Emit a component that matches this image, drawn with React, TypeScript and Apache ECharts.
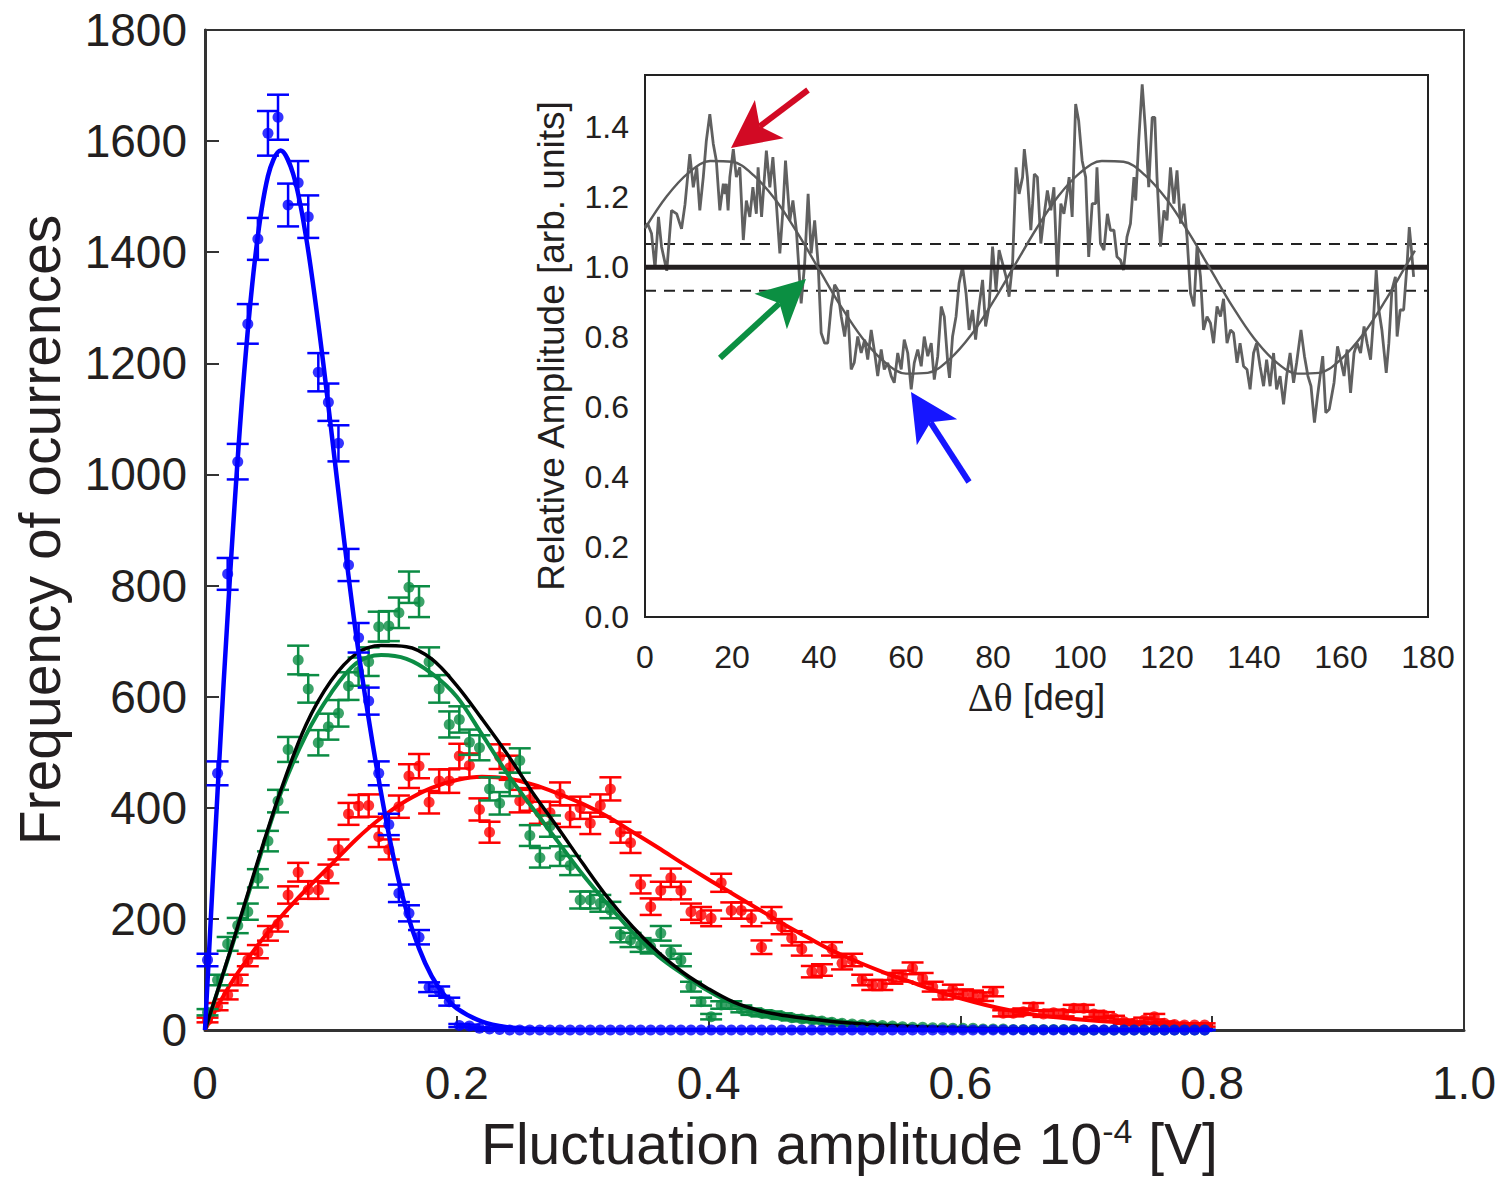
import React, { useEffect, useRef } from "react";
import * as echarts from "echarts";

// ---------- main histogram data (bins of width 0.008 starting at 0.002) ----------
const binStart = 0.002;
const binWidth = 0.008;

const blueCounts = [
  126, 462, 821, 1023, 1271, 1424, 1614, 1643, 1485, 1525,
  1464, 1184, 1130, 1056, 837, 706, 592, 462, 370, 246,
  210, 167, 77, 70, 51, 8, 7, 3, 2, 1,
  0, 0, 0, 0, 0, 0, 0, 0, 0, 0,
  0, 0, 0, 0, 0, 0, 0, 0, 0, 0,
  0, 0, 0, 0, 0, 0, 0, 0, 0, 0,
  0, 0, 0, 0, 0, 0, 0, 0, 0, 0,
  0, 0, 0, 0, 0, 0, 0, 0, 0, 0,
  0, 0, 0, 0, 0, 0, 0, 0, 0, 0,
  0, 0, 0, 0, 0, 0, 0, 0, 0, 0,
];

const greenCounts = [
  32, 90, 155, 188, 213, 273, 340, 412, 505, 666,
  614, 517, 546, 570, 619, 645, 663, 726, 727, 751,
  797, 771, 663, 614, 550, 559, 518, 508, 434, 408,
  442, 485, 350, 310, 367, 313, 296, 234, 234, 228,
  216, 171, 162, 153, 150, 174, 140, 126, 78, 51,
  24, 45, 45, 38, 33, 30, 28, 25, 22, 20,
  18, 16, 14, 12, 11, 10, 9, 8, 7, 6,
  5, 5, 4, 4, 3, 3, 3, 2, 2, 2,
  1, 1, 1, 1, 1, 1, 1, 0, 0, 0,
  0, 0, 0, 0, 0, 0, 0, 0, 0, 0,
];

const redCounts = [
  18, 42, 63, 90, 126, 141, 174, 191, 243, 284,
  252, 252, 281, 325, 389, 403, 404, 348, 325, 402,
  457, 475, 410, 448, 448, 493, 476, 397, 356, 492,
  472, 412, 415, 391, 391, 425, 385, 400, 372, 404,
  434, 356, 337, 262, 222, 251, 274, 251, 213, 207,
  201, 265, 215, 215, 201, 149, 207, 186, 165, 146,
  105, 108, 146, 120, 126, 90, 81, 81, 93, 97,
  111, 93, 78, 63, 73, 65, 63, 60, 69, 30,
  30, 33, 42, 29, 31, 30, 39, 39, 29, 27,
  21, 15, 12, 18, 24, 12, 10, 9, 9, 9,
];

// fitted curves: [amplitude, frequency]
const blueFit = [
  [0, 0], [0.01, 430], [0.02, 822], [0.03, 1152], [0.04, 1393], [0.05, 1537],
  [0.06, 1583], [0.07, 1541], [0.08, 1431], [0.09, 1271], [0.1, 1085],
  [0.11, 891], [0.12, 712], [0.13, 560], [0.14, 425], [0.15, 308], [0.16, 215],
  [0.17, 147], [0.18, 97], [0.19, 63], [0.2, 39], [0.22, 15], [0.24, 5],
  [0.26, 2], [0.3, 0], [0.4, 0], [0.5, 0], [0.6, 0], [0.7, 0], [0.8, 0],
];

const greenFit = [
  [0, 0], [0.02, 140], [0.04, 285], [0.06, 425], [0.08, 530], [0.1, 606],
  [0.12, 660], [0.14, 675], [0.16, 668], [0.18, 642], [0.2, 600], [0.22, 532],
  [0.24, 462], [0.26, 400], [0.28, 340], [0.3, 280], [0.32, 226], [0.34, 175],
  [0.36, 133], [0.38, 100], [0.4, 70], [0.42, 47], [0.44, 32], [0.46, 23],
  [0.48, 17], [0.5, 13], [0.55, 6], [0.6, 3], [0.65, 1], [0.7, 0], [0.8, 0],
];

const blackFit = [
  [0, 0], [0.02, 142], [0.04, 290], [0.06, 430], [0.08, 548], [0.1, 628],
  [0.12, 677], [0.14, 692], [0.16, 690], [0.18, 668], [0.2, 620], [0.22, 560],
  [0.24, 497], [0.26, 428], [0.28, 365], [0.3, 300], [0.32, 238], [0.34, 185],
  [0.36, 140], [0.38, 103], [0.4, 74], [0.42, 50], [0.44, 35], [0.46, 26],
  [0.48, 20], [0.5, 15], [0.55, 7], [0.6, 3], [0.65, 1], [0.7, 0], [0.8, 0],
];

const redFit = [
  [0, 0], [0.02, 82], [0.04, 147], [0.06, 203], [0.08, 252], [0.1, 297],
  [0.12, 343], [0.14, 382], [0.16, 413], [0.18, 436], [0.2, 450], [0.22, 456],
  [0.24, 453], [0.26, 442], [0.28, 426], [0.3, 407], [0.32, 384], [0.34, 356],
  [0.36, 328], [0.38, 299], [0.4, 271], [0.42, 244], [0.44, 217], [0.46, 190],
  [0.48, 165], [0.5, 141], [0.52, 121], [0.54, 103], [0.56, 87], [0.58, 71],
  [0.6, 57], [0.62, 45], [0.64, 35], [0.66, 27], [0.68, 22], [0.7, 18],
  [0.72, 15], [0.74, 13], [0.76, 11], [0.78, 10], [0.8, 9],
];

// ---------- inset data: [delta theta (deg), relative amplitude] ----------
const insetTrace = [
  [0, 1.115], [0.6, 1.125], [1.5, 1.097], [2.3, 0.997], [3.1, 1.144], [3.8, 1.059],
  [5, 0.99], [6.1, 1.163], [7.3, 1.153], [8, 1.125], [8.4, 1.11], [9.2, 1.18],
  [10.3, 1.324], [11.1, 1.229], [11.9, 1.286], [12.6, 1.163], [13.4, 1.258],
  [14.1, 1.362], [14.9, 1.438], [15.7, 1.353], [16.4, 1.305], [17.2, 1.163],
  [18, 1.239], [18.4, 1.21], [18.7, 1.239], [19.1, 1.163], [19.5, 1.258],
  [20.3, 1.338], [21, 1.258], [21.8, 1.286], [22.6, 1.078], [23.3, 1.191],
  [24.1, 1.144], [24.8, 1.229], [25.6, 1.153], [26, 1.286], [26.8, 1.144],
  [27.9, 1.334], [28.7, 1.229], [29.4, 1.315], [30.2, 1.182], [31, 1.04],
  [31.7, 1.163], [32.3, 1.305], [33.3, 1.134], [34, 1.191], [34.8, 1.106],
  [35.6, 0.954], [35.9, 0.897], [36.7, 1.01], [37.5, 1.21], [38.2, 1.04],
  [39, 1.134], [39.8, 1.01], [40.5, 0.812], [41.3, 0.783], [42, 0.783],
  [42.8, 0.888], [43.6, 0.95], [44.3, 0.935], [45.1, 0.86], [45.9, 0.802],
  [46.6, 0.878], [47.4, 0.708], [48.1, 0.727], [48.9, 0.802], [49.7, 0.755],
  [50.5, 0.793], [51.2, 0.736], [52, 0.821], [52.8, 0.755], [53.5, 0.689],
  [54.3, 0.765], [55, 0.708], [55.8, 0.727], [56.6, 0.689], [57.3, 0.67],
  [58.1, 0.755], [58.9, 0.708], [59.6, 0.793], [60.4, 0.755], [61.2, 0.651],
  [61.9, 0.727], [62.7, 0.765], [63.5, 0.717], [64.2, 0.802], [65, 0.746],
  [65.8, 0.783], [66.5, 0.679], [67.3, 0.746], [68.1, 0.888], [68.8, 0.859],
  [69.6, 0.727], [70, 0.684], [70.7, 0.802], [71.5, 0.859], [72.2, 0.954],
  [73, 1.002], [73.8, 0.926], [74.5, 0.821], [75.3, 0.878], [76, 0.793],
  [76.8, 0.888], [77.6, 0.964], [78.3, 0.831], [79.1, 0.888], [79.9, 1.059],
  [80.7, 0.935], [81.4, 1.049], [82.2, 1.011], [83, 0.973], [83.7, 0.916],
  [84.5, 1.011], [85.3, 1.286], [86, 1.21], [86.8, 1.258], [87.2, 1.338],
  [87.9, 1.258], [88.7, 1.106], [89.1, 1.182], [89.5, 1.267], [90.2, 1.258],
  [91, 1.068], [91.7, 1.144], [92.5, 1.22], [93.3, 1.163], [94, 1.229],
  [94.8, 0.973], [95.6, 1.182], [96.3, 1.153], [97.1, 1.22], [97.5, 1.258],
  [98.2, 1.144], [99, 1.467], [99.7, 1.419], [100.5, 1.305], [101.3, 1.258],
  [102, 1.03], [102.8, 1.182], [103.6, 1.182], [103.9, 1.286], [104.7, 1.068],
  [105.5, 1.049], [106.3, 1.153], [107, 1.106], [107.8, 1.106], [108.5, 1.03],
  [109.3, 1.021], [110, 0.992], [110.8, 1.087], [111.6, 1.125], [112.4, 1.258],
  [112.8, 1.191], [113.5, 1.362], [114.3, 1.523], [115, 1.4], [115.8, 1.229],
  [116.6, 1.429], [117.2, 1.429], [117.7, 1.258], [118.5, 1.059], [119.3, 1.163],
  [120, 1.134], [120.8, 1.286], [121.6, 1.182], [122.3, 1.277], [123.1, 1.125],
  [123.9, 1.182], [124.6, 1.087], [125.4, 0.926], [126.2, 0.888], [126.9, 1.059],
  [127.7, 0.973], [128.4, 0.821], [129.2, 0.859], [130, 0.84], [130.7, 0.783],
  [131.5, 0.888], [132.3, 0.859], [133, 0.91], [133.8, 0.783], [134.6, 0.821],
  [135.3, 0.812], [136.1, 0.727], [136.8, 0.783], [137.6, 0.717], [138.4, 0.708],
  [139.1, 0.651], [139.9, 0.755], [140.6, 0.783], [141.4, 0.717], [142.2, 0.66],
  [142.9, 0.736], [143.7, 0.66], [144.5, 0.755], [145.2, 0.651], [146, 0.689],
  [146.8, 0.608], [147.5, 0.689], [148.3, 0.755], [149.1, 0.67], [149.8, 0.727],
  [150.8, 0.821], [151.6, 0.746], [152.4, 0.689], [153.1, 0.66], [153.9, 0.556],
  [154.6, 0.632], [155.8, 0.746], [156.5, 0.584], [157.3, 0.594], [158.4, 0.67],
  [159.2, 0.774], [159.9, 0.736], [160.7, 0.689], [161.4, 0.765], [162.2, 0.641],
  [163, 0.755], [163.7, 0.783], [164.5, 0.755], [165.3, 0.831], [166, 0.783],
  [166.8, 0.736], [167.5, 0.859], [168.1, 0.992], [168.7, 0.878], [169.4, 0.821],
  [170.4, 0.698], [171, 0.783], [171.7, 0.935], [172.5, 0.973], [172.9, 0.802],
  [173.6, 0.878], [174.4, 0.878], [175.2, 1.011], [175.7, 1.115], [176.2, 1.049],
  [176.7, 0.973],
];

const insetFit = [
  [0, 1.111], [5, 1.203], [10, 1.27], [15, 1.304], [20, 1.302], [25, 1.263],
  [30, 1.193], [35, 1.099], [40, 0.994], [45, 0.889], [50, 0.797], [55, 0.73],
  [60, 0.696], [65, 0.698], [70, 0.737], [75, 0.807], [80, 0.901], [85, 1.006],
  [90, 1.111], [95, 1.203], [100, 1.27], [105, 1.304], [110, 1.302], [115, 1.263],
  [120, 1.193], [125, 1.099], [130, 0.994], [135, 0.889], [140, 0.797],
  [145, 0.73], [150, 0.696], [155, 0.698], [160, 0.737], [165, 0.807],
  [170, 0.901], [175, 1.006], [177, 1.048],
];

const meanLevel = 1.0;
const upperLevel = 1.067;
const lowerLevel = 0.933;

// ---------- styling ----------
const SANS = "'Liberation Sans', Arial, Helvetica, sans-serif";
const SERIF = "'Liberation Serif', 'Times New Roman', serif";
const INK = "#231f20";
const BLUE = "#0000ff";
const GREEN = "#0b8c44";
const RED = "#ff0000";

const binCenters = blueCounts.map((_, i) => +(binStart + i * binWidth).toFixed(4));

function errorBars(counts: number[], color: string, z: number) {
  return {
    type: "custom",
    xAxisIndex: 0,
    yAxisIndex: 0,
    z,
    silent: true,
    data: counts.map((c, i) => [binCenters[i], c, Math.sqrt(c)]),
    encode: { x: 0, y: [1] },
    renderItem: (_params: any, api: any) => {
      const x = api.value(0);
      const y = api.value(1);
      const e = api.value(2);
      const top = api.coord([x, y + e]);
      const bot = api.coord([x, y - e]);
      const hw = 11;
      const style = { stroke: color, lineWidth: 2.5, fill: null };
      return {
        type: "group",
        children: [
          { type: "line", shape: { x1: top[0], y1: top[1], x2: bot[0], y2: bot[1] }, style },
          { type: "line", shape: { x1: top[0] - hw, y1: top[1], x2: top[0] + hw, y2: top[1] }, style },
          { type: "line", shape: { x1: bot[0] - hw, y1: bot[1], x2: bot[0] + hw, y2: bot[1] }, style },
        ],
      };
    },
  };
}

function points(counts: number[], color: string, z: number) {
  return {
    type: "scatter",
    xAxisIndex: 0,
    yAxisIndex: 0,
    z,
    symbol: "circle",
    symbolSize: 11,
    itemStyle: { color },
    data: counts.map((c, i) => [binCenters[i], c]),
  };
}

function fitLine(data: number[][], color: string, width: number, z: number, axis = 0) {
  return {
    type: "line",
    xAxisIndex: axis,
    yAxisIndex: axis,
    z,
    data,
    smooth: 0.35,
    showSymbol: false,
    symbol: "none",
    lineStyle: { color, width },
    silent: true,
  };
}

function arrow(tail: number[], tip: number[], color: string) {
  const dx = tail[0] - tip[0];
  const dy = tail[1] - tip[1];
  const len = Math.hypot(dx, dy);
  const ux = dx / len;
  const uy = dy / len;
  const px = -uy;
  const py = ux;
  const headLen = 48;
  const halfW = 24;
  const notch = 36;
  const bx = tip[0] + ux * headLen;
  const by = tip[1] + uy * headLen;
  const nx = tip[0] + ux * notch;
  const ny = tip[1] + uy * notch;
  return [
    {
      type: "line",
      z: 100,
      shape: { x1: tail[0], y1: tail[1], x2: nx, y2: ny },
      style: { stroke: color, lineWidth: 6 },
    },
    {
      type: "polygon",
      z: 101,
      shape: {
        points: [
          [tip[0], tip[1]],
          [bx + px * halfW, by + py * halfW],
          [nx, ny],
          [bx - px * halfW, by - py * halfW],
        ],
      },
      style: { fill: color },
    },
  ];
}

export default function App() {
  const ref = useRef<HTMLDivElement>(null);

  useEffect(() => {
    document.body.style.margin = "0";
    if (!ref.current) return;
    const chart = echarts.init(ref.current, undefined, { renderer: "svg" });

    const option: any = {
      animation: false,
      backgroundColor: "#ffffff",
      textStyle: { fontFamily: SANS },
      grid: [
        {
          left: 205,
          right: 39,
          top: 30,
          bottom: 148,
          show: true,
          borderColor: "#333",
          borderWidth: 2,
          backgroundColor: "transparent",
        },
        {
          left: 645,
          right: 75,
          top: 75,
          bottom: 561,
          show: true,
          borderColor: "#222",
          borderWidth: 2,
          backgroundColor: "#ffffff",
          z: 5,
        },
      ],
      xAxis: [
        {
          type: "value",
          gridIndex: 0,
          min: 0,
          max: 1,
          interval: 0.2,
          axisLine: { show: true, onZero: false, lineStyle: { color: "#333", width: 3 } },
          axisTick: { show: true, inside: true, length: 14, lineStyle: { color: "#333", width: 2 } },
          axisLabel: {
            fontSize: 46,
            color: INK,
            margin: 30,
            fontFamily: SANS,
            formatter: (v: number) => (v === 0 ? "0" : v.toFixed(1)),
          },
          splitLine: { show: false },
          name: "Fluctuation amplitude 10{sup|-4} [V]",
          nameLocation: "middle",
          nameGap: 84,
          nameTextStyle: {
            fontSize: 57,
            color: INK,
            fontFamily: SANS,
            padding: [0, 0, 0, 30],
            rich: {
              sup: { fontSize: 34, color: INK, fontFamily: SANS, padding: [0, 0, 26, 0] },
            },
          },
        },
        {
          type: "value",
          gridIndex: 1,
          min: 0,
          max: 180,
          interval: 20,
          axisLine: { show: true, onZero: false, lineStyle: { color: "#222", width: 2 } },
          axisTick: { show: true, inside: true, length: 8, lineStyle: { color: "#222", width: 2 } },
          axisLabel: { fontSize: 32, color: INK, margin: 24, fontFamily: SANS },
          splitLine: { show: false },
          name: "{g|Δθ} [deg]",
          nameLocation: "middle",
          nameGap: 60,
          nameTextStyle: {
            fontSize: 37,
            color: INK,
            fontFamily: SANS,
            rich: { g: { fontSize: 40, color: INK, fontFamily: SERIF } },
          },
        },
      ],
      yAxis: [
        {
          type: "value",
          gridIndex: 0,
          min: 0,
          max: 1800,
          interval: 200,
          axisLine: { show: true, onZero: false, lineStyle: { color: "#333", width: 3 } },
          axisTick: { show: true, inside: true, length: 14, lineStyle: { color: "#333", width: 2 } },
          axisLabel: {
            fontSize: 46,
            color: INK,
            margin: 18,
            fontFamily: SANS,
            formatter: (v: number) => String(v),
          },
          splitLine: { show: false },
          name: "Frequency of ocurrences",
          nameLocation: "middle",
          nameRotate: 90,
          nameGap: 137,
          nameTextStyle: { fontSize: 57, color: INK, fontFamily: SANS },
        },
        {
          type: "value",
          gridIndex: 1,
          min: 0,
          max: 1.55,
          interval: 0.2,
          axisLine: { show: true, onZero: false, lineStyle: { color: "#222", width: 2 } },
          axisTick: { show: true, inside: true, length: 10, lineStyle: { color: "#222", width: 2 } },
          axisLabel: {
            fontSize: 32,
            color: INK,
            margin: 16,
            fontFamily: SANS,
            showMaxLabel: false,
            formatter: (v: number) => v.toFixed(1),
          },
          splitLine: { show: false },
          name: "Relative Amplitude [arb. units]",
          nameLocation: "middle",
          nameRotate: 90,
          nameGap: 75,
          nameTextStyle: { fontSize: 37, color: INK, fontFamily: SANS },
        },
      ],
      series: [
        errorBars(redCounts, RED, 2),
        points(redCounts, RED, 2),
        fitLine(redFit, RED, 4, 3),
        errorBars(greenCounts, GREEN, 4),
        points(greenCounts, GREEN, 4),
        fitLine(greenFit, GREEN, 4, 5),
        fitLine(blackFit, "#000000", 3.5, 5),
        errorBars(blueCounts, BLUE, 6),
        points(blueCounts, BLUE, 6),
        fitLine(blueFit, BLUE, 4.5, 7),
        // inset
        {
          type: "line",
          xAxisIndex: 1,
          yAxisIndex: 1,
          z: 10,
          data: [[0, upperLevel], [180, upperLevel]],
          showSymbol: false,
          symbol: "none",
          lineStyle: { color: "#222", width: 2, type: [11, 8] },
          silent: true,
        },
        {
          type: "line",
          xAxisIndex: 1,
          yAxisIndex: 1,
          z: 10,
          data: [[0, lowerLevel], [180, lowerLevel]],
          showSymbol: false,
          symbol: "none",
          lineStyle: { color: "#222", width: 2, type: [11, 8] },
          silent: true,
        },
        {
          type: "line",
          xAxisIndex: 1,
          yAxisIndex: 1,
          z: 11,
          data: insetTrace,
          showSymbol: false,
          symbol: "none",
          lineStyle: { color: "#606060", width: 2.8 },
          silent: true,
        },
        {
          type: "line",
          xAxisIndex: 1,
          yAxisIndex: 1,
          z: 12,
          data: [[0, meanLevel], [180, meanLevel]],
          showSymbol: false,
          symbol: "none",
          lineStyle: { color: "#231f20", width: 5 },
          silent: true,
        },
        fitLine(insetFit, "#5a5a5a", 2.4, 12, 1),
      ],
      graphic: [
        ...arrow([808, 90], [731, 148], "#d20a24"),
        ...arrow([720, 358], [806, 279], "#0b8f42"),
        ...arrow([969, 482], [911, 392], "#1616ff"),
      ],
    };

    chart.setOption(option);
    return () => chart.dispose();
  }, []);

  return <div ref={ref} style={{ width: 1503, height: 1178 }} />;
}
